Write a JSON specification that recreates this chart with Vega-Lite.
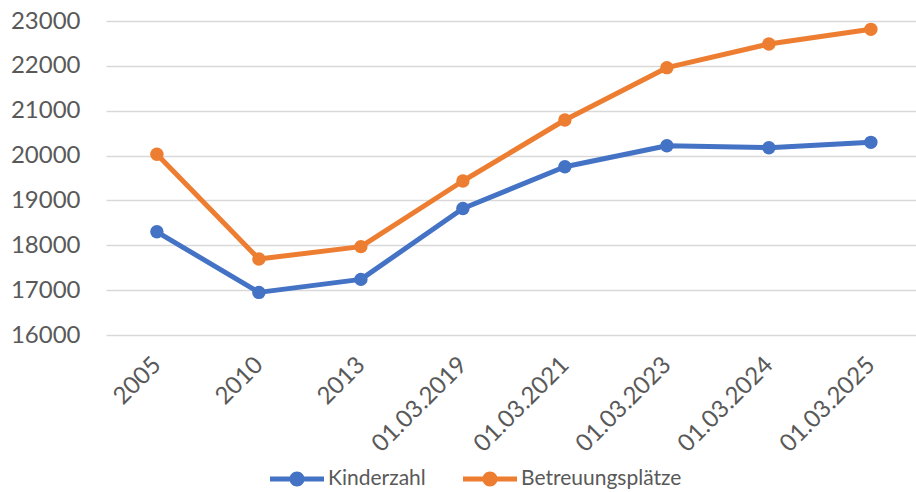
{
  "$schema": "https://vega.github.io/schema/vega-lite/v6.json",
  "width": 810,
  "height": 314,
  "autosize": {"type": "none"},
  "padding": {"left": 106, "top": 21, "right": 0, "bottom": 157},
  "background": "white",
  "data": {
    "values": [
      {"Datum": "2005", "Reihe": "Kinderzahl", "Wert": 18300},
      {"Datum": "2010", "Reihe": "Kinderzahl", "Wert": 16950},
      {"Datum": "2013", "Reihe": "Kinderzahl", "Wert": 17240},
      {"Datum": "01.03.2019", "Reihe": "Kinderzahl", "Wert": 18820},
      {"Datum": "01.03.2021", "Reihe": "Kinderzahl", "Wert": 19750},
      {"Datum": "01.03.2023", "Reihe": "Kinderzahl", "Wert": 20220},
      {"Datum": "01.03.2024", "Reihe": "Kinderzahl", "Wert": 20175},
      {"Datum": "01.03.2025", "Reihe": "Kinderzahl", "Wert": 20295},
      {"Datum": "2005", "Reihe": "Betreuungsplätze", "Wert": 20030},
      {"Datum": "2010", "Reihe": "Betreuungsplätze", "Wert": 17695},
      {"Datum": "2013", "Reihe": "Betreuungsplätze", "Wert": 17970},
      {"Datum": "01.03.2019", "Reihe": "Betreuungsplätze", "Wert": 19433},
      {"Datum": "01.03.2021", "Reihe": "Betreuungsplätze", "Wert": 20793},
      {"Datum": "01.03.2023", "Reihe": "Betreuungsplätze", "Wert": 21960},
      {"Datum": "01.03.2024", "Reihe": "Betreuungsplätze", "Wert": 22487},
      {"Datum": "01.03.2025", "Reihe": "Betreuungsplätze", "Wert": 22814}
    ]
  },
  "encoding": {
    "x": {
      "field": "Datum",
      "type": "ordinal",
      "sort": null,
      "scale": {"type": "point", "padding": 0.4706, "align": 0.53},
      "axis": {
        "title": null,
        "domain": false,
        "ticks": false,
        "grid": false,
        "labelAngle": -45,
        "labelAlign": "right",
        "labelBaseline": "middle",
        "labelPadding": 26,
        "labelFont": "Lato",
        "labelFontSize": 24,
        "labelColor": "#595959"
      }
    },
    "y": {
      "field": "Wert",
      "type": "quantitative",
      "scale": {"domain": [16000, 23000], "nice": false, "zero": false},
      "axis": {
        "title": null,
        "domain": false,
        "ticks": false,
        "grid": true,
        "gridColor": "#D9D9D9",
        "gridWidth": 1.5,
        "values": [16000, 17000, 18000, 19000, 20000, 21000, 22000, 23000],
        "format": "d",
        "labelPadding": 26,
        "labelFont": "Lato",
        "labelFontSize": 24,
        "labelColor": "#595959"
      }
    },
    "color": {
      "field": "Reihe",
      "type": "nominal",
      "scale": {"domain": ["Kinderzahl", "Betreuungsplätze"], "range": ["#4472C4", "#ED7D31"]},
      "legend": {
        "title": null,
        "orient": "none",
        "legendX": 164,
        "legendY": 431,
        "direction": "horizontal",
        "symbolType": "M-1,-0.093H1V0.093H-1Z M-0.278,0A0.278,0.278 0 1,1 0.278,0A0.278,0.278 0 1,1 -0.278,0Z",
        "symbolSize": 2916,
        "symbolStrokeWidth": 0,
        "labelFont": "Lato",
        "labelFontSize": 21,
        "labelColor": "#595959",
        "labelOffset": 4,
        "labelLimit": 400,
        "columnPadding": 37,
        "encode": {
          "symbols": {
            "update": {
              "fill": {"scale": "color", "field": "value"},
              "stroke": {"value": "transparent"},
              "opacity": {"value": 1}
            }
          }
        }
      }
    }
  },
  "layer": [
    {"mark": {"type": "line", "strokeWidth": 5, "strokeJoin": "round", "strokeCap": "round"}},
    {"mark": {"type": "point", "filled": true, "shape": "circle", "size": 180, "opacity": 1}}
  ],
  "config": {"view": {"stroke": null}}
}
